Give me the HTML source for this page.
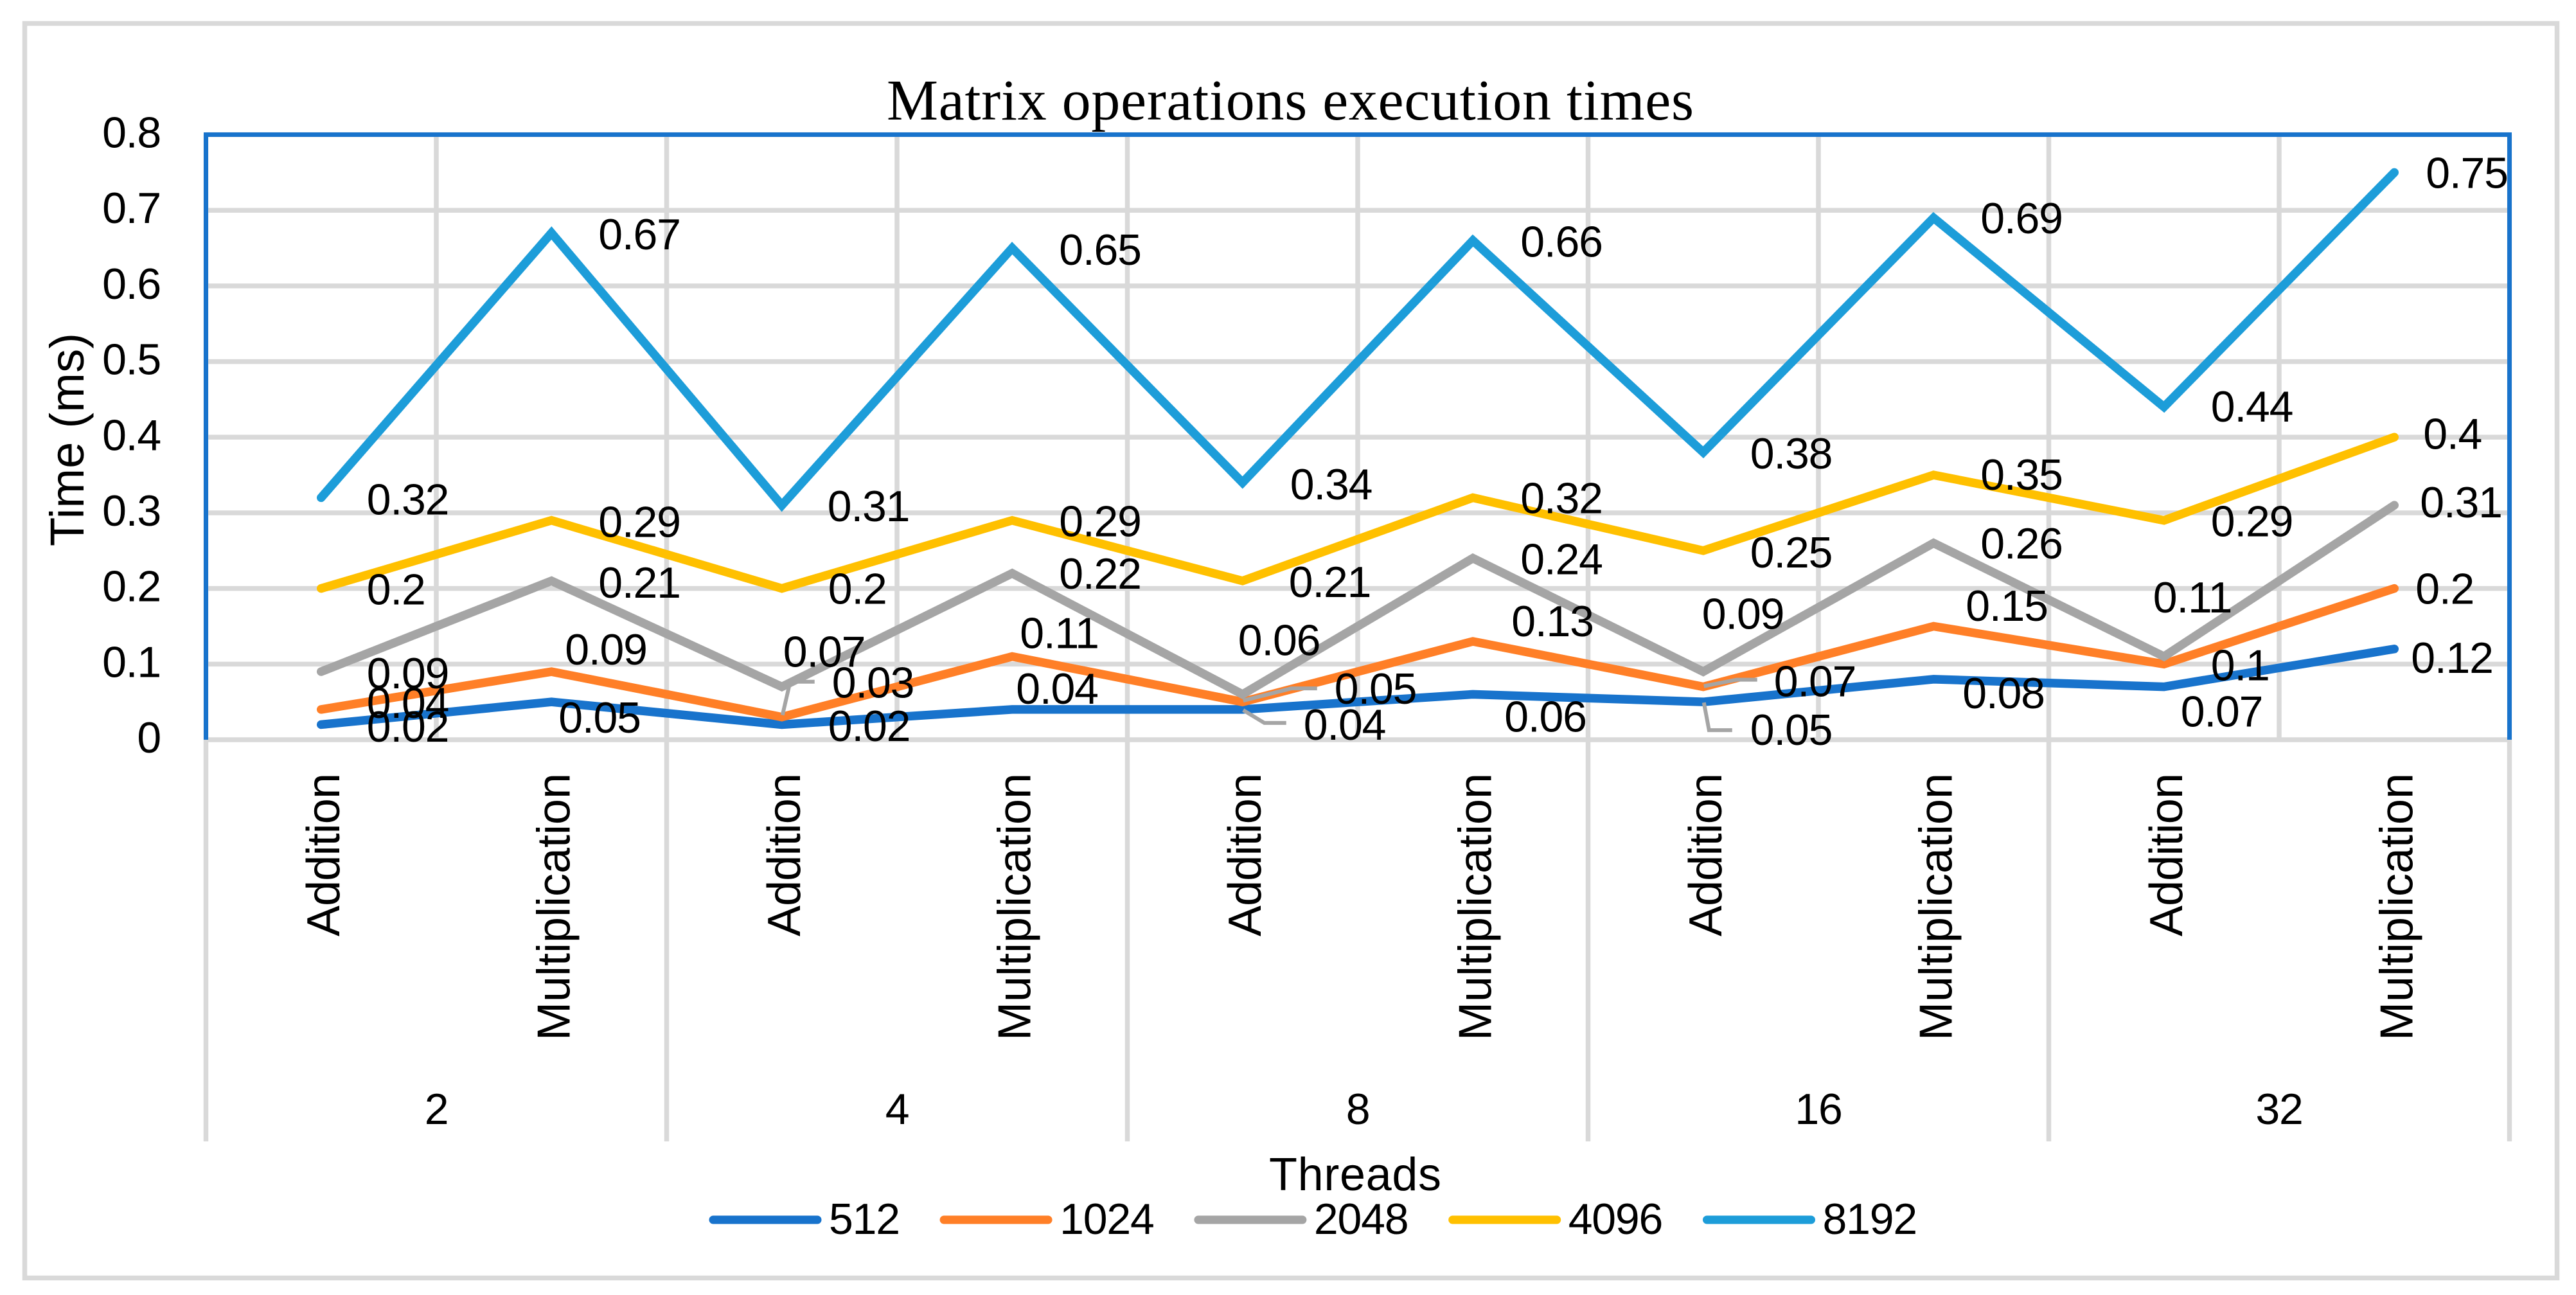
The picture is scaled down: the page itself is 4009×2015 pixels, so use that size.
<!DOCTYPE html>
<html lang="en">
<head>
<meta charset="utf-8">
<title>Matrix operations execution times</title>
<style>
html,body{margin:0;padding:0;background:#fff;width:4009px;height:2015px;overflow:hidden}
svg{display:block}
text{font-family:"Liberation Sans",Arial,sans-serif;fill:#000;font-size:68px;letter-spacing:-1.2px}
text.word{font-size:72px;letter-spacing:0}
</style>
</head>
<body>
<svg id="chart" xmlns="http://www.w3.org/2000/svg" width="4009" height="2015" viewBox="0 0 4009 2015">
  <rect x="0" y="0" width="4009" height="2015" fill="#ffffff"/>
  <rect x="38.5" y="36.5" width="3941" height="1952" fill="none" stroke="#D9D9D9" stroke-width="7.5"/>
  <g id="grid"></g>
  <path d="M320.5 1151V209.5H3905.5V1151" fill="none" stroke="#1873CC" stroke-width="7"/>
  <g id="axes"></g>
  <g id="series"></g>
  <g id="leaders"></g>
  <g id="labels"></g>
  <text class="word" x="1380" y="186" textLength="1256" lengthAdjust="spacing" style="font-family:'Liberation Serif','Times New Roman',serif;font-size:90px">Matrix operations execution times</text>
  <text class="word" transform="translate(130,850) rotate(-90)" textLength="332" lengthAdjust="spacing" style="font-size:74px">Time (ms)</text>
  <text class="word" x="1975" y="1852" textLength="268" lengthAdjust="spacing">Threads</text>
  <g id="legend"></g>
</svg>
<script>
// ---- chart data ----
const categories = ["Addition","Multiplication","Addition","Multiplication","Addition","Multiplication","Addition","Multiplication","Addition","Multiplication"];
const groups = ["2","4","8","16","32"];
const yTicks = [0,0.1,0.2,0.3,0.4,0.5,0.6,0.7,0.8];
const seriesNames = ["512","1024","2048","4096","8192"];
const values512 = [0.02,0.05,0.02,0.04,0.04,0.06,0.05,0.08,0.07,0.12];
const values1024 = [0.04,0.09,0.03,0.11,0.05,0.13,0.07,0.15,0.1,0.2];
const values2048 = [0.09,0.21,0.07,0.22,0.06,0.24,0.09,0.26,0.11,0.31];
const values4096 = [0.2,0.29,0.2,0.29,0.21,0.32,0.25,0.35,0.29,0.4];
const values8192 = [0.32,0.67,0.31,0.65,0.34,0.66,0.38,0.69,0.44,0.75];

// ---- axis functions ----
const plotLeft = 320.5, plotRight = 3905.5, plotTop = 209.5, plotBottom = 1151, yMax = 0.8;
function xAt(i){ return plotLeft + (plotRight - plotLeft) * (i + 0.5) / categories.length; }
function yAt(v){ return plotBottom - (plotBottom - plotTop) * v / yMax; }

// ---- styling and label placement (relative to each point) ----
const allValues = [values512, values1024, values2048, values4096, values8192];
const colors = ["#1873CC","#FF7F27","#A5A5A5","#FFC000","#1D9DD9"];
const labelOffsets = [
  [[71,26.5],[11,48],[72,25.5],[6,-9],[95,47],[49,58],[73,67],[45,45],[26,62],[26,37]],
  [[71,13],[21,-11],[78,-30],[12,-13],[143,3],[60,-8],[110,15],[50,-8.5],[73,25],[33,24]],
  [[71,26],[73,26],[2,-31],[73,24],[-7,-61],[74,25],[-2,-66.5],[73,24],[-17,-68.5],[40,19]],
  [[71,25],[73,26],[72,24],[73,25],[72,25],[74,24],[73,26],[73,23],[73,25],[45,18]],
  [[71,26],[73,25.5],[71,25],[73,26],[74,26],[74,25],[73,25],[73,24],[73,23],[49,24]]
];
const leaderDefs = [
  {s:1,c:2,o:[[1,-3],[13,-55],[51,-55]]},
  {s:1,c:4,o:[[1,-2],[76,-21],[116,-21]]},
  {s:0,c:4,o:[[1,1],[34,21],[68,21]]},
  {s:1,c:6,o:[[1,-1],[52,-11],[84,-11]]},
  {s:0,c:6,o:[[1,1],[9,44],[45,44]]}
];

const NS = "http://www.w3.org/2000/svg";
function make(tag, parent, attrs, txt){
  const n = document.createElementNS(NS, tag);
  for (const k in attrs) n.setAttribute(k, attrs[k]);
  if (txt !== undefined) n.textContent = txt;
  parent.appendChild(n);
  return n;
}
const gridG = document.getElementById("grid");
const axesG = document.getElementById("axes");
const seriesG = document.getElementById("series");
const leadersG = document.getElementById("leaders");
const labelsG = document.getElementById("labels");
const legendG = document.getElementById("legend");
const gridStyle = {stroke:"#D9D9D9","stroke-width":7.5,fill:"none"};

// horizontal gridlines and y tick labels
yTicks.forEach(function(t){
  const gl = make("line", gridG, Object.assign({x1:plotLeft,x2:plotRight,y1:yAt(t),y2:yAt(t)}, gridStyle));
  
  
  const tl = make("text", axesG, {x:250,y:yAt(t)+20,"text-anchor":"end"}, String(t));
  
  
});

// vertical gridlines: every category inside the plot, group boundaries run on below the axis
for (let i = 0; i <= categories.length; i++) {
  const gx = plotLeft + (plotRight - plotLeft) * i / categories.length;
  const y2 = (i % 2 === 0) ? 1776 : plotBottom;
  const vl = make("line", gridG, Object.assign({x1:gx,x2:gx,y1:plotTop,y2:y2}, gridStyle));
  
  
}

// category labels
categories.forEach(function(c, i){
  const len = c === "Addition" ? 254 : 416;
  const cl = make("text", axesG, {"class":"word",transform:"translate(" + (xAt(i)+28) + ",1203) rotate(-90)","text-anchor":"end",textLength:len,lengthAdjust:"spacing"}, c);
  
  
});

// group labels
groups.forEach(function(g, i){
  const gxc = plotLeft + (plotRight - plotLeft) * (i + 0.5) / groups.length;
  const gt = make("text", axesG, {x:gxc,y:1749,"text-anchor":"middle"}, g);
  
  
});

// series lines
allValues.forEach(function(vals, s){
  const pts = vals.map(function(v, i){ return xAt(i) + "," + yAt(v); }).join(" ");
  const pl = make("polyline", seriesG, {points:pts,fill:"none",stroke:colors[s],"stroke-width":13.5,"stroke-linecap":"round","stroke-linejoin":"miter","stroke-miterlimit":3});
  
  
});

// leader lines
leaderDefs.forEach(function(d){
  const px = xAt(d.c), py = yAt(allValues[d.s][d.c]);
  const pts = d.o.map(function(o){ return (px + o[0]) + "," + (py + o[1]); }).join(" ");
  const ll = make("polyline", leadersG, {points:pts,fill:"none",stroke:"#A5A5A5","stroke-width":6});
  
  
});

// data labels
allValues.forEach(function(vals, s){
  vals.forEach(function(v, i){
    const o = labelOffsets[s][i];
    const dl = make("text", labelsG, {x:xAt(i)+o[0],y:yAt(v)+o[1]}, String(v));
    
    
  });
});

// legend (flow layout)
let legendX = 1104;
seriesNames.forEach(function(name, s){
  const sw = make("line", legendG, {x1:legendX+6,x2:legendX+168,y1:1898,y2:1898,stroke:colors[s],"stroke-width":13,"stroke-linecap":"round"});
  
  
  const lt = make("text", legendG, {x:legendX+186,y:1920}, name);
  
  
  legendX += 186 + name.length * 36.7 + 63;
});
</script>
</body>
</html>
